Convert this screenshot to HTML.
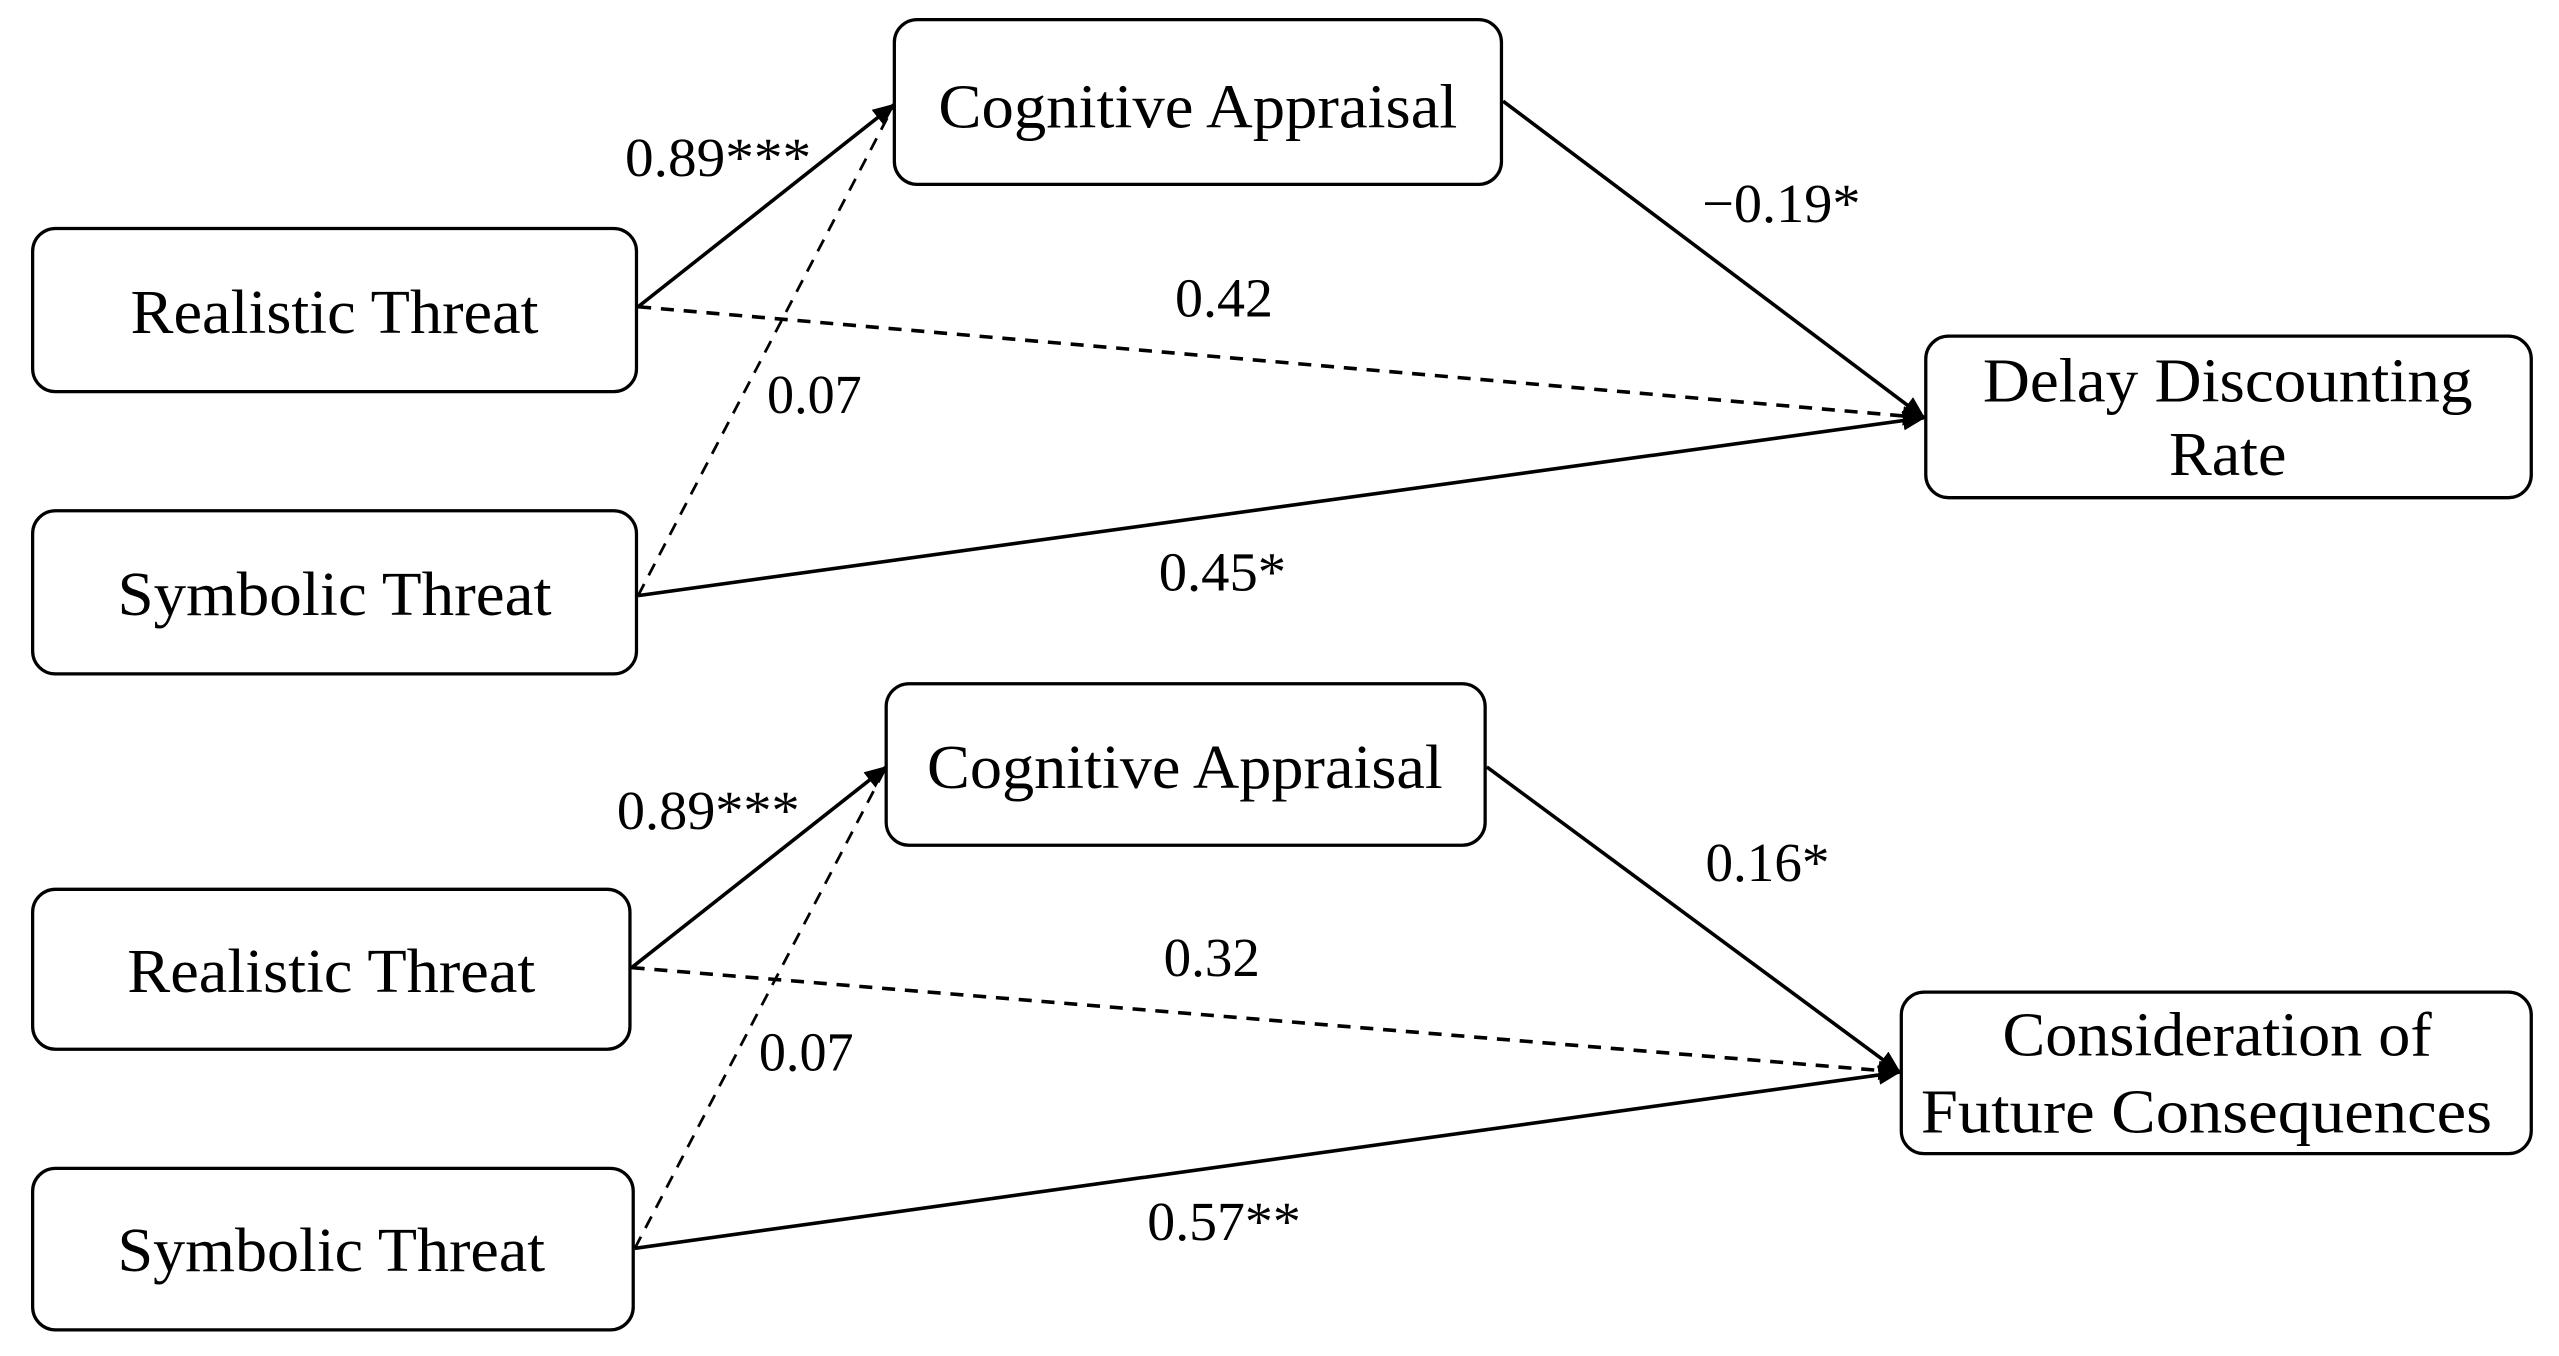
<!DOCTYPE html>
<html><head><meta charset="utf-8"><style>
html,body{margin:0;padding:0;background:#fff;}
svg{display:block;}
text{font-family:"Liberation Serif",serif;fill:#000;}
</style></head><body>
<svg width="2559" height="1356" viewBox="0 0 1568 831" preserveAspectRatio="none" xmlns="http://www.w3.org/2000/svg">
<defs>
<marker id="a" markerWidth="14" markerHeight="12" refX="13" refY="6" orient="auto" markerUnits="userSpaceOnUse"><path d="M0,0 L14,6 L0,12 z" fill="#000"/></marker>
</defs>
<g fill="#fff" stroke="#000" stroke-width="2">
<rect x="548" y="12" width="372" height="101" rx="14"/>
<rect x="20" y="140" width="370" height="100" rx="14"/>
<rect x="20" y="313" width="370" height="100" rx="14"/>
<rect x="1180" y="206" width="371" height="99" rx="14"/>
<rect x="543" y="419" width="367" height="99" rx="14"/>
<rect x="20" y="545" width="366" height="98" rx="14"/>
<rect x="20" y="716" width="368" height="99" rx="14"/>
<rect x="1165" y="608" width="386" height="99" rx="14"/>
</g>
<g stroke="#000" stroke-width="2.2" fill="none">
<line x1="391" y1="188" x2="548" y2="64" marker-end="url(#a)"/>
<line x1="391" y1="365" x2="548" y2="64" stroke-dasharray="8,6" stroke-width="1.7"/>
<line x1="391" y1="188" x2="1179" y2="256" stroke-dasharray="8,6" marker-end="url(#a)"/>
<line x1="391" y1="365" x2="1179" y2="256" marker-end="url(#a)"/>
<line x1="921" y1="62" x2="1179" y2="256" marker-end="url(#a)"/>
<line x1="387" y1="593" x2="543" y2="470" marker-end="url(#a)"/>
<line x1="389" y1="765" x2="543" y2="470" stroke-dasharray="8,6" stroke-width="1.7"/>
<line x1="387" y1="593" x2="1164" y2="657" stroke-dasharray="8,6" marker-end="url(#a)"/>
<line x1="389" y1="765" x2="1164" y2="657" marker-end="url(#a)"/>
<line x1="911" y1="470" x2="1164" y2="657" marker-end="url(#a)"/>
</g>
<g font-size="38">
<text x="575" y="78" textLength="318" lengthAdjust="spacingAndGlyphs">Cognitive Appraisal</text>
<text x="80" y="204" textLength="250" lengthAdjust="spacingAndGlyphs">Realistic Threat</text>
<text x="72" y="377" textLength="266" lengthAdjust="spacingAndGlyphs">Symbolic Threat</text>
<text x="1215" y="246" textLength="300" lengthAdjust="spacingAndGlyphs">Delay Discounting</text>
<text x="1329" y="291" textLength="72" lengthAdjust="spacingAndGlyphs">Rate</text>
<text x="568" y="483" textLength="316" lengthAdjust="spacingAndGlyphs">Cognitive Appraisal</text>
<text x="78" y="608" textLength="250" lengthAdjust="spacingAndGlyphs">Realistic Threat</text>
<text x="72" y="779" textLength="262" lengthAdjust="spacingAndGlyphs">Symbolic Threat</text>
<text x="1227" y="647" textLength="263" lengthAdjust="spacingAndGlyphs">Consideration of</text>
<text x="1177" y="694" textLength="350" lengthAdjust="spacingAndGlyphs">Future Consequences</text>
</g>
<g font-size="34">
<text x="383" y="108" textLength="114" lengthAdjust="spacingAndGlyphs">0.89***</text>
<text x="470" y="253" textLength="58" lengthAdjust="spacingAndGlyphs">0.07</text>
<text x="720" y="194" textLength="60" lengthAdjust="spacingAndGlyphs">0.42</text>
<text x="710" y="362" textLength="78" lengthAdjust="spacingAndGlyphs">0.45*</text>
<text x="1043" y="136" textLength="97" lengthAdjust="spacingAndGlyphs">−0.19*</text>
<text x="378" y="508" textLength="112" lengthAdjust="spacingAndGlyphs">0.89***</text>
<text x="465" y="656" textLength="58" lengthAdjust="spacingAndGlyphs">0.07</text>
<text x="713" y="598" textLength="59" lengthAdjust="spacingAndGlyphs">0.32</text>
<text x="703" y="760" textLength="94" lengthAdjust="spacingAndGlyphs">0.57**</text>
<text x="1045" y="540" textLength="76" lengthAdjust="spacingAndGlyphs">0.16*</text>
</g>
</svg>
</body></html>
